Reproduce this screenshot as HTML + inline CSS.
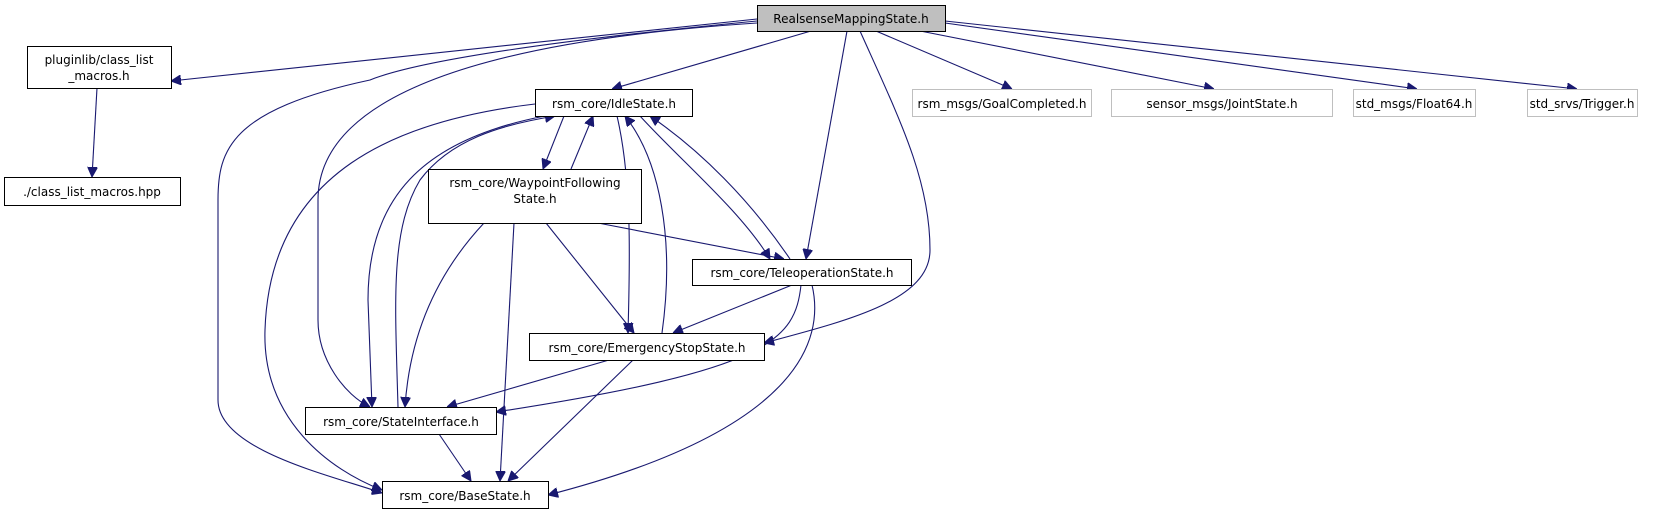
<!DOCTYPE html>
<html><head><meta charset="utf-8"><style>
html,body{margin:0;padding:0;background:#fff;}
svg{display:block;}
text{font-family:"DejaVu Sans","Liberation Sans",sans-serif;font-size:12px;fill:#000;}
</style></head><body>
<svg width="1670" height="515" viewBox="0 0 1670 515" xmlns="http://www.w3.org/2000/svg">
<defs>
<marker id="a" viewBox="0 0 10 10" refX="10" refY="5" markerWidth="10" markerHeight="10" markerUnits="userSpaceOnUse" orient="auto">
<path d="M0,0 L10,5 L0,10 z" fill="#191970" stroke="#191970"/>
</marker>
</defs>
<g fill="none" stroke="#191970" stroke-width="1.1" marker-end="url(#a)">
<path d="M757,19 L171,81"/>
<path d="M811,31 L612,89"/>
<path d="M757,23 C500,40 318,90 318,200 L318,320 C318,360 345,395 370,407"/>
<path d="M757,21 C560,40 420,60 370,80 C230,110 218,150 218,200 L218,400 C218,450 330,475 382,493"/>
<path d="M847,31 L806,259"/>
<path d="M860,31 C900,120 930,180 930,250 C930,300 850,320 764,343"/>
<path d="M876,31 L1012,89"/>
<path d="M905,28 L1214,89"/>
<path d="M945,23 L1417,89"/>
<path d="M945,21 L1577,89"/>
<path d="M97,88 L92,177"/>
<path d="M564,116 L543,169"/>
<path d="M571,169 L593,116"/>
<path d="M617,116 C632,180 630,260 628,333"/>
<path d="M662,333 C675,240 660,160 625,116"/>
<path d="M640,116 C680,160 740,210 770,259"/>
<path d="M790,259 C750,200 700,150 650,116"/>
<path d="M535,104 C400,120 270,170 265,330 C262,420 330,470 382,490"/>
<path d="M545,116 C420,140 368,200 368,300 L372,407"/>
<path d="M398,407 C395,300 390,230 420,180 C450,140 500,125 555,116"/>
<path d="M484,223 C440,270 410,330 405,407"/>
<path d="M514,223 L500,481"/>
<path d="M546,223 L634,333"/>
<path d="M598,223 L784,259"/>
<path d="M792,285 L673,333"/>
<path d="M801,285 C795,340 770,370 496,412"/>
<path d="M812,285 C825,340 800,430 548,495"/>
<path d="M609,360 L447,407"/>
<path d="M633,360 L508,481"/>
<path d="M439,434 L471,481"/>
</g>
<g stroke-width="1">
<rect x="757.5" y="5.5" width="188" height="26" fill="#bfbfbf" stroke="#000"/>
<rect x="27.5" y="46.5" width="144" height="42" fill="#fff" stroke="#000"/>
<rect x="4.5" y="177.5" width="176" height="28" fill="#fff" stroke="#000"/>
<rect x="535.5" y="89.5" width="157" height="27" fill="#fff" stroke="#000"/>
<rect x="428.5" y="169.5" width="213" height="54" fill="#fff" stroke="#000"/>
<rect x="692.5" y="259.5" width="219" height="26" fill="#fff" stroke="#000"/>
<rect x="529.5" y="333.5" width="235" height="27" fill="#fff" stroke="#000"/>
<rect x="305.5" y="407.5" width="191" height="27" fill="#fff" stroke="#000"/>
<rect x="382.5" y="481.5" width="166" height="27" fill="#fff" stroke="#000"/>
<rect x="912.5" y="89.5" width="179" height="27" fill="#fff" stroke="#bfbfbf"/>
<rect x="1111.5" y="89.5" width="221" height="27" fill="#fff" stroke="#bfbfbf"/>
<rect x="1353.5" y="89.5" width="122" height="27" fill="#fff" stroke="#bfbfbf"/>
<rect x="1527.5" y="89.5" width="110" height="27" fill="#fff" stroke="#bfbfbf"/>
</g>
<g text-anchor="middle">
<text x="851" y="23">RealsenseMappingState.h</text>
<text x="99" y="64">pluginlib/class_list</text>
<text x="99" y="80">_macros.h</text>
<text x="92" y="196">./class_list_macros.hpp</text>
<text x="614" y="108">rsm_core/IdleState.h</text>
<text x="535" y="187">rsm_core/WaypointFollowing</text>
<text x="535" y="203">State.h</text>
<text x="802" y="277">rsm_core/TeleoperationState.h</text>
<text x="647" y="352">rsm_core/EmergencyStopState.h</text>
<text x="401" y="426">rsm_core/StateInterface.h</text>
<text x="465" y="500">rsm_core/BaseState.h</text>
<text x="1002" y="108">rsm_msgs/GoalCompleted.h</text>
<text x="1222" y="108">sensor_msgs/JointState.h</text>
<text x="1414" y="108">std_msgs/Float64.h</text>
<text x="1582" y="108">std_srvs/Trigger.h</text>
</g>
</svg>
</body></html>
